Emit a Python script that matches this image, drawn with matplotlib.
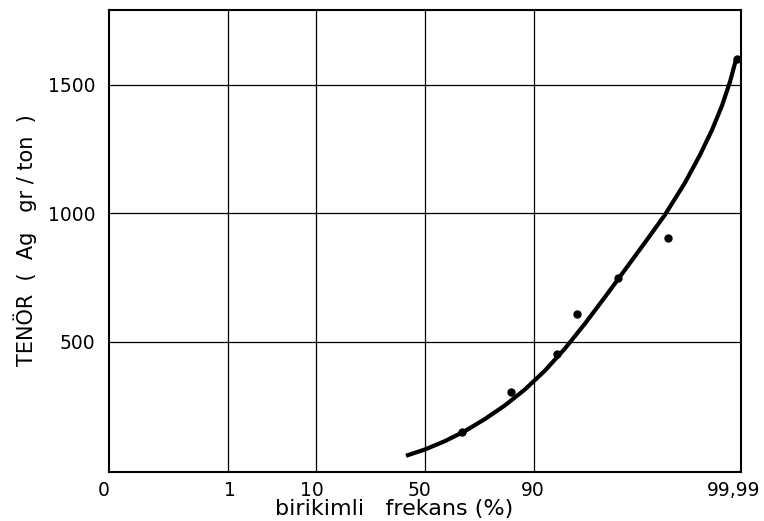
import math
import numpy as np
import matplotlib
matplotlib.use("Agg")
import matplotlib.pyplot as plt
from matplotlib.transforms import ScaledTranslation

# ---- data ----
freq_pts = [66.7, 84.5, 94.03, 96.36, 98.861, 99.790, 99.9883]     # cumulative frequency (%)
grade_pts = [150, 306, 451, 607, 747, 905, 1599]                   # grade (Ag g/t)

curve_freq = [41.15, 50.0, 59.31, 68.12, 76.02, 82.70, 88.06, 92.12, 95.04,
              97.03, 98.30, 99.076, 99.522, 99.765, 99.890, 99.9402,
              99.9638, 99.9766, 99.9836, 99.98755]
curve_grade = [57, 81.5, 114, 153, 200, 253, 315, 388, 474,
               571, 674, 780, 886, 994, 1118, 1227,
               1323, 1418, 1510, 1597]

x_ticks = [0.01, 1, 10, 50, 90, 99.99]
x_tick_labels = ["0", "1", "10", "50", "90", "99,99"]
y_ticks = [500, 1000, 1500]
y_tick_labels = ["500", "1000", "1500"]

# ---- normal probability scale ----
_erf = np.vectorize(math.erf, otypes=[float])


def _cdf_pct(z):
    z = np.asarray(z, dtype=float)
    return 100.0 * 0.5 * (1.0 + _erf(z / math.sqrt(2.0)))


def _ppf_pct(p):
    p = np.asarray(p, dtype=float)
    q = np.clip(p / 100.0, 1e-12, 1 - 1e-12)
    lo = np.full(q.shape, -10.0)
    hi = np.full(q.shape, 10.0)
    for _ in range(70):
        mid = 0.5 * (lo + hi)
        c = 0.5 * (1.0 + _erf(mid / math.sqrt(2.0)))
        lo = np.where(c < q, mid, lo)
        hi = np.where(c < q, hi, mid)
    return 0.5 * (lo + hi)


fig = plt.figure(figsize=(7.64, 5.21), dpi=100)
ax = fig.add_axes([109.3 / 764, 1 - 471.7 / 521, (740.7 - 109.3) / 764, (471.7 - 9.5) / 521])

ax.set_xscale("function", functions=(_ppf_pct, _cdf_pct))
ax.set_xlim(0.01, 99.99)
ax.set_ylim(-5, 1792)

ax.plot(curve_freq, curve_grade, color="black", lw=3.0, solid_capstyle="butt",
        solid_joinstyle="round", zorder=3)
ax.plot(freq_pts, grade_pts, "o", color="black", ms=5, zorder=4)

ax.set_xticks(x_ticks)
ax.set_xticklabels(x_tick_labels)
ax.set_yticks(y_ticks)
ax.set_yticklabels(y_tick_labels)
ax.minorticks_off()
ax.tick_params(axis="both", length=0, labelsize=13.5, colors="black")
ax.tick_params(axis="x", pad=7)
ax.tick_params(axis="y", pad=10)

# small horizontal shifts of the x tick labels (pixels), as in the hand-lettered original
label_shift_px = [-6, 2, -4, -6, -1, -7]
for tick, dx in zip(ax.xaxis.get_major_ticks(), label_shift_px):
    tick.label1.set_transform(tick.label1.get_transform()
                              + ScaledTranslation(dx / 100.0, 0, fig.dpi_scale_trans))

for v in x_ticks[1:-1]:
    ax.axvline(v, color="black", lw=0.9, zorder=1)
for v in y_ticks:
    ax.axhline(v, color="black", lw=0.9, zorder=1)

for s in ax.spines.values():
    s.set_linewidth(1.5)
    s.set_color("black")

ax.set_ylabel("TENÖR  (  Ag   gr / ton  )", fontsize=15, color="black")
ax.yaxis.set_label_coords(-0.1145, 0.5)
ax.set_xlabel("birikimli   frekans (%)", fontsize=16, color="black")
ax.xaxis.set_label_coords(0.451, -0.058)

fig.savefig("out.png", dpi=100)
